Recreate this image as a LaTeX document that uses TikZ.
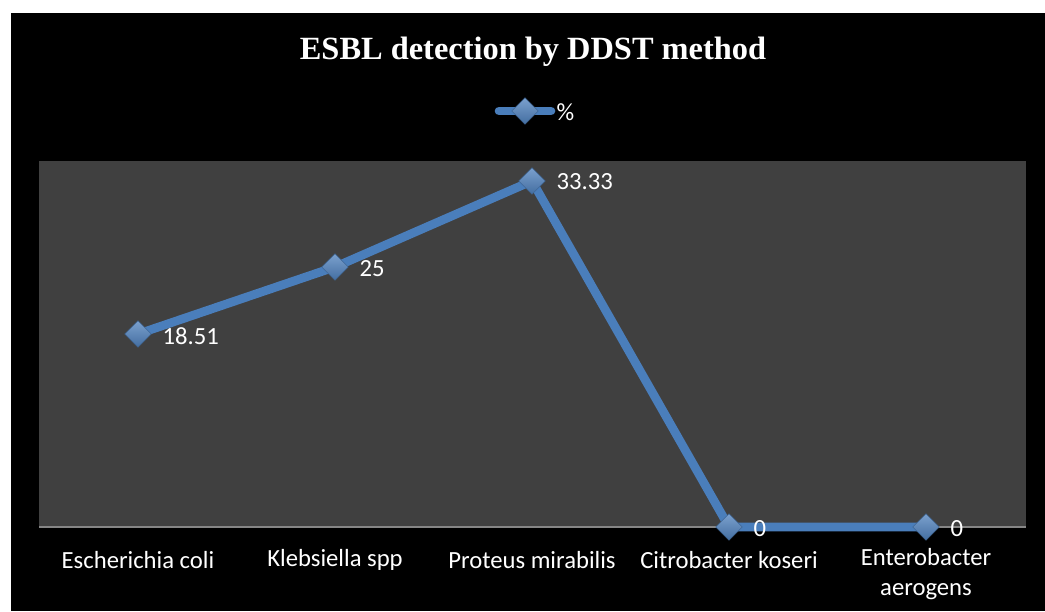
\documentclass[tikz,border=0pt]{standalone}
\usepackage{fontspec}
\setmainfont{Carlito}
\newfontfamily\titlefont{Liberation Serif}
\usetikzlibrary{shapes.geometric}

\definecolor{plotgray}{HTML}{404040}
\definecolor{axisgray}{HTML}{868686}
\definecolor{serblue}{HTML}{4A7EBB}
\definecolor{mrkblue}{HTML}{4F81BD}

\tikzset{
  mrk/.style={diamond, minimum size=20pt, inner sep=0pt, draw=mrkblue!80!black,
    top color=mrkblue!75!white, bottom color=mrkblue!85!black},
  catlabel/.style={text=white, font=\fontsize{18.5}{22.5}\selectfont, align=center},
  vallabel/.style={text=white, font=\fontsize{18.5}{22.5}\selectfont, anchor=west}
}

\begin{document}
\begin{tikzpicture}[x=0.75pt,y=-0.75pt]
  \useasboundingbox (0,0) rectangle (1045,611);
  \fill[white] (0,0) rectangle (1045,611);
  \fill[black] (11,13) rectangle (1045,611);
  \fill[plotgray] (39,161) rectangle (1026,527);
  \draw[axisgray,line width=1.5pt] (39,527) -- (1026,527);

  % title and legend
  \node[text=white, font=\titlefont\bfseries\fontsize{24.3}{28}\selectfont] (title) at (533,52) {ESBL detection by DDST method};
  \coordinate (lgA) at (499,111);
  \coordinate (lgB) at (551,111);
  \draw[serblue, line width=6.5pt, line cap=round] (lgA) -- (lgB);
  \node[mrk] (lgm) at (525,111) {};
  \node[text=white, font=\fontsize{18.5}{22.5}\selectfont, anchor=west] (lgt) at (552,112) {\%};

  % data points
  \coordinate (p1) at (138,334);
  \coordinate (p2) at (335,267);
  \coordinate (p3) at (532,181);
  \coordinate (p4) at (729,527);
  \coordinate (p5) at (926,527);
  \draw[serblue, line width=6.5pt, line join=round] (p1) -- (p2) -- (p3) -- (p4) -- (p5);
  \foreach \p in {p1,p2,p3,p4,p5}
    \node[mrk] (m\p) at (\p) {};

  \node[vallabel] (v1) at (158,336) {18.51};
  \node[vallabel] (v2) at (355,269) {25};
  \node[vallabel] (v3) at (552,182) {33.33};
  \node[vallabel] (v4) at (749,529) {0};
  \node[vallabel] (v5) at (946,529) {0};

  % categories
  \node[catlabel] (c1) at (138,560) {Escherichia coli};
  \node[catlabel] (c2) at (335,560) {Klebsiella spp};
  \node[catlabel] (c3) at (532,560) {Proteus mirabilis};
  \node[catlabel] (c4) at (729,560) {Citrobacter koseri};
  \node[catlabel, anchor=north] (c5) at (926,544) {Enterobacter\\aerogens};
\end{tikzpicture}
\end{document}
